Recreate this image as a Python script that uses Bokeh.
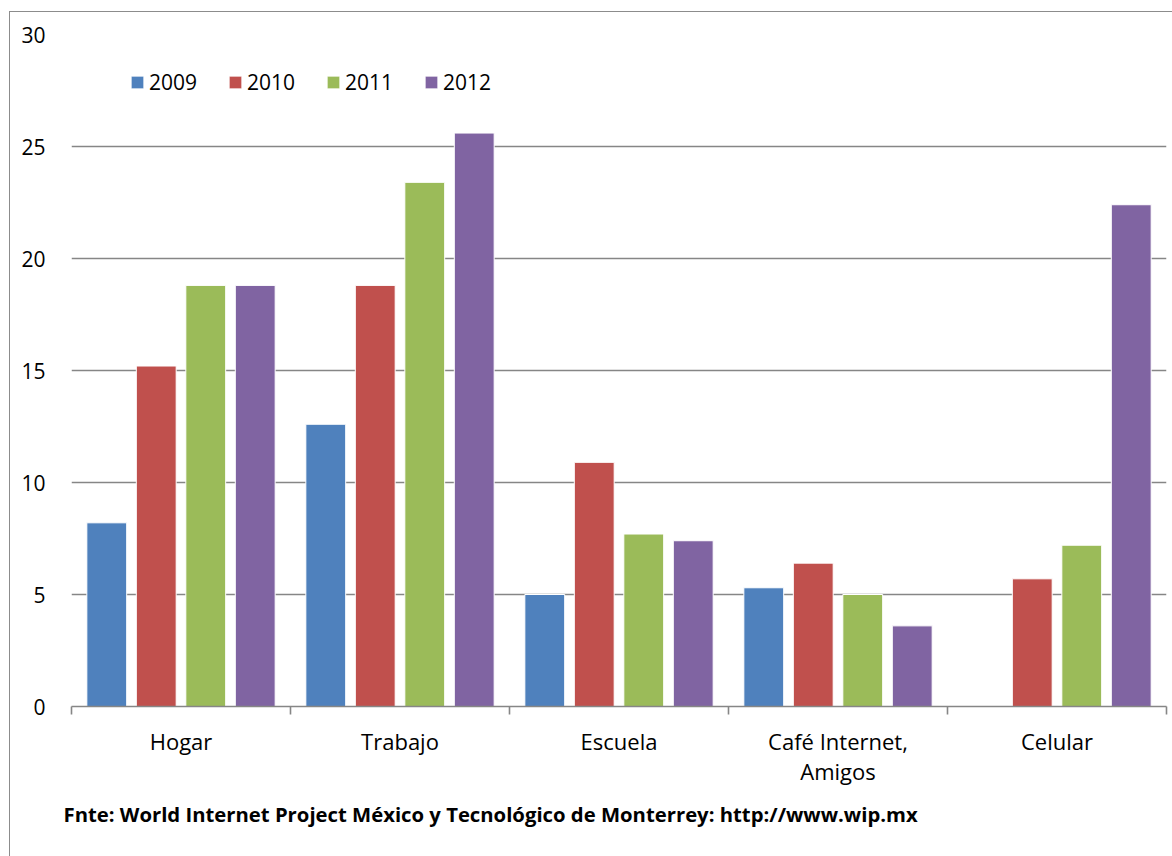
from bokeh.plotting import figure
from bokeh.models import FixedTicker, Range1d, ColumnDataSource, Legend, LegendItem, Title
from bokeh.embed import file_html
from bokeh.resources import INLINE

categories = ["Hogar", "Trabajo", "Escuela", "Café Internet,\nAmigos", "Celular"]
years = ["2009", "2010", "2011", "2012"]
v2009 = [8.2, 12.6, 5.0, 5.3, None]
v2010 = [15.2, 18.8, 10.9, 6.4, 5.7]
v2011 = [18.8, 23.4, 7.7, 5.0, 7.2]
v2012 = [18.8, 25.6, 7.4, 3.6, 22.4]
y_ticks = [0, 5, 10, 15, 20, 25, 30]
colors = ["#4F81BD", "#C0504D", "#9BBB59", "#8064A2"]
source_note = "Fnte: World Internet Project México y Tecnológico de Monterrey: http://www.wip.mx"

series = [v2009, v2010, v2011, v2012]
offsets = [-0.339, -0.113, 0.113, 0.339]
bar_w = 0.182
FONT = "Open Sans"
GRAY = "#868686"

p = figure(width=1163, height=845, output_backend="svg", toolbar_location=None,
           x_range=Range1d(0, len(categories)), y_range=Range1d(0, 30),
           min_border_left=61, min_border_right=7, min_border_top=22, min_border_bottom=151)
p.margin = (11, 0, 0, 9)
p.styles = {"border-top": "1px solid #8c8c8c", "border-left": "1px solid #8c8c8c"}
p.outline_line_color = None
p.background_fill_color = "white"
p.border_fill_color = "white"

centers = [i + 0.5 for i in range(len(categories))]
items = []
for yr, vals, off, col in zip(years, series, offsets, colors):
    src = ColumnDataSource(dict(x=[c + off for c in centers],
                                top=[float("nan") if v is None else v for v in vals]))
    r = p.vbar(x="x", top="top", width=bar_w, bottom=0, source=src,
               fill_color=col, line_color="white", line_width=1)
    items.append(LegendItem(label=yr, renderers=[r]))

# y axis
p.yaxis.ticker = FixedTicker(ticks=y_ticks)
p.yaxis.axis_line_color = None
p.yaxis.major_tick_line_color = None
p.yaxis.minor_tick_line_color = None
p.yaxis.major_label_text_font = FONT
p.yaxis.major_label_text_font_size = "21px"
p.yaxis.major_label_text_color = "black"
p.yaxis.major_label_standoff = 20

p.ygrid.ticker = FixedTicker(ticks=y_ticks)
p.ygrid.grid_line_color = GRAY
p.ygrid.grid_line_width = 1.6
p.xgrid.grid_line_color = None

# x axis: labels at centers, ticks at boundaries (minor ticks)
p.xaxis.ticker = FixedTicker(ticks=centers, minor_ticks=list(range(len(categories) + 1)))
p.xaxis.major_label_overrides = {c: lab for c, lab in zip(centers, categories)}
p.xaxis.major_tick_line_color = None
p.xaxis.minor_tick_line_color = GRAY
p.xaxis.minor_tick_line_width = 1.6
p.xaxis.minor_tick_out = 8
p.xaxis.minor_tick_in = 0
p.xaxis.axis_line_color = GRAY
p.xaxis.axis_line_width = 1.6
p.xaxis.major_label_text_font = FONT
p.xaxis.major_label_text_font_size = "22px"
p.xaxis.major_label_text_line_height = 1.0
p.xaxis.major_label_text_color = "black"
p.xaxis.major_label_standoff = 11

legend = Legend(items=items, orientation="horizontal", location=(58, 610),
                glyph_width=16, glyph_height=16, label_standoff=4, spacing=30,
                padding=0, margin=0, border_line_color=None, background_fill_alpha=0,
                label_text_font=FONT, label_text_font_size="21px", label_text_color="black")
p.add_layout(legend)

note = Title(text=source_note, align="left", offset=-8, text_font=FONT,
             text_font_size="20.3px", text_font_style="bold", text_color="black", standoff=18)
p.add_layout(note, "below")

open("out.html", "w").write(file_html(p, INLINE))
